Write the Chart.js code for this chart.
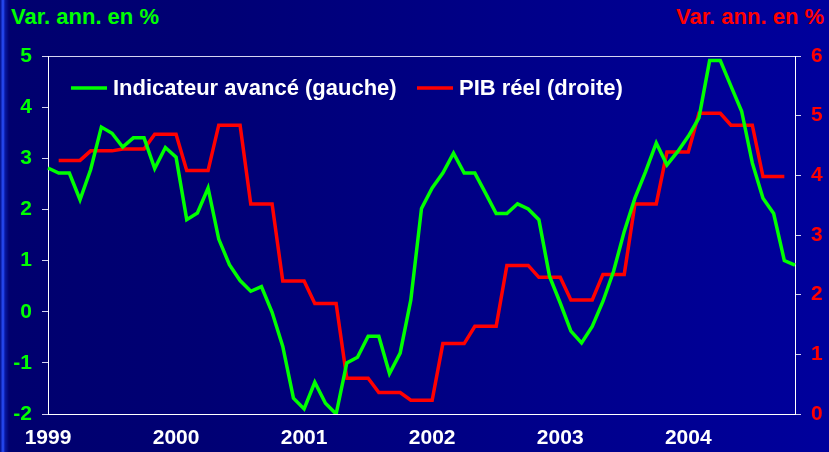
<!DOCTYPE html>
<html>
<head>
<meta charset="utf-8">
<script src="https://cdn.jsdelivr.net/npm/chart.js@4/dist/chart.umd.min.js"></script>
<style>
  html, body { margin: 0; padding: 0; }
  body {
    width: 829px; height: 452px; overflow: hidden; position: relative;
    background: linear-gradient(to right, #000a80 0px, #2a50ff 3px, #0818a0 5px, #00006e 9px, #000074 25%, #00008a 65%, #00009c 100%);
    font-family: "Liberation Sans", Arial, sans-serif;
  }
  #chart { position: absolute; left: 0; top: 0; }
  .unit { position: absolute; top: 6px; font-weight: bold; font-size: 22px; line-height: 22px; white-space: nowrap; }
  #unitLeft { left: 11px; color: #00ff00; }
  #unitRight { right: 5px; color: #ff0000; }
</style>
</head>
<body>
<div id="unitLeft" class="unit">Var. ann. en %</div>
<div id="unitRight" class="unit">Var. ann. en %</div>
<canvas id="chart" width="829" height="452"></canvas>
<script>
const years = ['1999', '2000', '2001', '2002', '2003', '2004'];
const monthNames = ['01', '02', '03', '04', '05', '06', '07', '08', '09', '10', '11', '12'];

// Indicateur avancé (gauche), monthly, Jan 1999 - Nov 2004
const indicateur = [
    2.81, 2.71, 2.71, 2.19, 2.78, 3.61, 3.49, 3.22, 3.40, 3.40, 2.80, 3.21,
    3.02, 1.80, 1.93, 2.42, 1.42, 0.92, 0.61, 0.40, 0.49, -0.01, -0.68, -1.69,
    -1.90, -1.38, -1.79, -2.00, -1.00, -0.89, -0.48, -0.48, -1.21, -0.81, 0.23, 2.02,
    2.42, 2.71, 3.10, 2.71, 2.71, 2.32, 1.92, 1.92, 2.11, 2.01, 1.80, 0.69,
    0.17, -0.38, -0.61, -0.29, 0.20, 0.79, 1.57, 2.22, 2.74, 3.30, 2.87, 3.13,
    3.43, 3.79, 4.91, 4.91, 4.41, 3.92, 2.91, 2.22, 1.92, 1.00, 0.91
];

// PIB réel (droite), quarterly values repeated per month
const pib = [
    null, 4.25, 4.25, 4.25, 4.41, 4.41, 4.41, 4.44, 4.44, 4.44, 4.69, 4.69,
    4.69, 4.08, 4.08, 4.08, 4.84, 4.84, 4.84, 3.52, 3.52, 3.52, 2.23, 2.23,
    2.23, 1.85, 1.85, 1.85, 0.60, 0.60, 0.60, 0.36, 0.36, 0.36, 0.23, 0.23,
    0.23, 1.18, 1.18, 1.18, 1.47, 1.47, 1.47, 2.49, 2.49, 2.49, 2.29, 2.29,
    2.29, 1.91, 1.91, 1.91, 2.34, 2.34, 2.34, 3.52, 3.52, 3.52, 4.39, 4.39,
    4.39, 5.04, 5.04, 5.04, 4.84, 4.84, 4.84, 3.98, 3.98, 3.98, null
];

const labels = years.flatMap(y => monthNames.map(m => y + '-' + m)).slice(0, indicateur.length);

const FONT = '"Liberation Sans", Arial, sans-serif';
const lineGrey = '#d4d4f0';

// legend drawn inside the plot area, on one row
const legendOffsets = [23, 369];
const insideLegend = {
    id: 'insideLegend',
    afterDraw(chart) {
        const ctx = chart.ctx;
        const area = chart.chartArea;
        const y = area.top + 32;
        ctx.save();
        ctx.font = 'bold 22px ' + FONT;
        ctx.textBaseline = 'middle';
        chart.data.datasets.forEach((ds, i) => {
            const x = area.left + legendOffsets[i];
            ctx.strokeStyle = ds.borderColor;
            ctx.lineWidth = 3.5;
            ctx.beginPath();
            ctx.moveTo(x, y);
            ctx.lineTo(x + 36, y);
            ctx.stroke();
            ctx.fillStyle = '#ffffff';
            ctx.fillText(ds.label, x + 42, y + 1);
        });
        ctx.restore();
    }
};

new Chart(document.getElementById('chart'), {
    type: 'line',
    data: {
        labels: labels,
        datasets: [
            {label: 'Indicateur avancé (gauche)', data: indicateur, yAxisID: 'y',
             borderColor: '#00ff00', borderWidth: 3.5, pointRadius: 0, tension: 0},
            {label: 'PIB réel (droite)', data: pib, yAxisID: 'y1',
             borderColor: '#ff0000', borderWidth: 3.5, pointRadius: 0, tension: 0},
        ]
    },
    options: {
        responsive: false,
        animation: false,
        layout: {padding: {top: 56, left: 0, right: 0, bottom: 0}},
        plugins: {legend: {display: false}, tooltip: {enabled: false}},
        scales: {
            x: {
                grid: {display: false, drawTicks: false},
                border: {display: true, color: '#ffffff', width: 1},
                ticks: {
                    autoSkip: false, maxRotation: 0, padding: 12, color: '#ffffff',
                    font: {family: FONT, size: 21, weight: 'bold'},
                    callback: function (val, i) {
                        const l = labels[i];
                        return l.endsWith('-01') ? l.slice(0, 4) : '';
                    }
                },
                afterFit: s => { s.height = 38; }
            },
            y: {
                position: 'left', min: -2, max: 5,
                ticks: {stepSize: 1, padding: 10, color: '#00ff00', font: {family: FONT, size: 21, weight: 'bold'}},
                grid: {
                    color: c => c.tick && c.tick.value === 5 ? lineGrey : 'transparent',
                    tickColor: lineGrey, tickLength: 6
                },
                border: {display: true, color: '#ffffff', width: 1},
                afterFit: s => { s.width = 48; }
            },
            y1: {
                position: 'right', min: 0, max: 6,
                ticks: {stepSize: 1, padding: 10, color: '#ff0000', font: {family: FONT, size: 21, weight: 'bold'}},
                grid: {drawOnChartArea: false, tickColor: lineGrey, tickLength: 6},
                border: {display: true, color: '#ffffff', width: 1},
                afterFit: s => { s.width = 34; }
            }
        }
    },
    plugins: [insideLegend]
});
</script>
</body>
</html>
